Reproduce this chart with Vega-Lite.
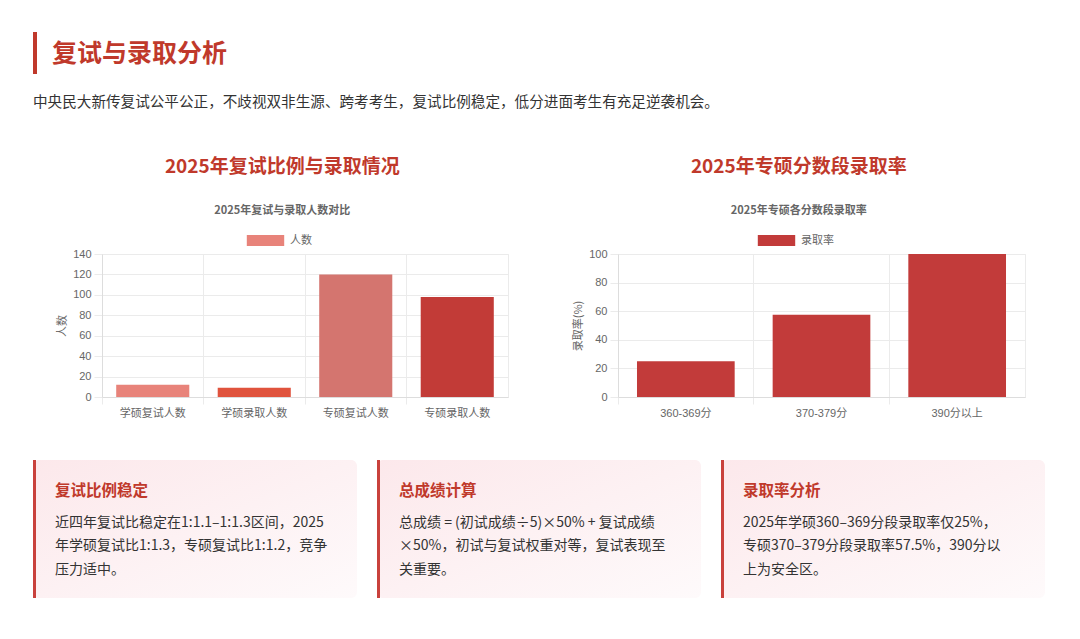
{
  "$schema": "https://vega.github.io/schema/vega-lite/v6.json",
  "background": "white",
  "padding": {"left": 33, "top": 30, "right": 20, "bottom": 10},
  "spacing": 39,
  "config": {
    "view": {"stroke": null},
    "font": "Noto Sans CJK SC",
    "text": {"font": "Noto Sans CJK SC"}
  },
  "resolve": {"scale": {"color": "independent"}, "legend": {"color": "independent"}},
  "vconcat": [
    {
      "width": 1012,
      "height": 86,
      "data": {"values": [
        {"part": "title", "text": "复试与录取分析"},
        {"part": "desc", "text": "中央民大新传复试公平公正，不歧视双非生源、跨考考生，复试比例稳定，低分进面考生有充足逆袭机会。"}
      ]},
      "layer": [
        {
          "transform": [{"filter": "datum.part == 'title'"}],
          "mark": {"type": "rule", "color": "#c0392b", "strokeWidth": 4},
          "encoding": {"x": {"value": 2}, "y": {"value": 0}, "y2": {"value": 42}}
        },
        {
          "transform": [{"filter": "datum.part == 'title'"}],
          "mark": {"type": "text", "align": "left", "baseline": "middle", "fontSize": 25, "fontWeight": "bold", "color": "#c0392b"},
          "encoding": {"text": {"field": "text"}, "x": {"value": 19}, "y": {"value": 22}}
        },
        {
          "transform": [{"filter": "datum.part == 'desc'"}],
          "mark": {"type": "text", "align": "left", "baseline": "middle", "fontSize": 14.6, "color": "#333333"},
          "encoding": {"text": {"field": "text"}, "x": {"value": 0}, "y": {"value": 71}}
        }
      ]
    },
    {
      "spacing": 22,
      "resolve": {"scale": {"color": "independent"}, "legend": {"color": "independent"}},
      "hconcat": [
        {
          "width": 1,
          "height": 1,
          "data": {"values": [{"a": 1}]},
          "mark": {"type": "text", "opacity": 0},
          "encoding": {"text": {"value": ""}}
        },
        {
          "spacing": 63,
          "resolve": {"scale": {"color": "independent"}, "legend": {"color": "independent"}},
          "hconcat": [
            {
              "width": 406,
              "height": 143,
              "view": {"stroke": "#ebebeb"},
              "title": {
                "text": "2025年复试比例与录取情况",
                "subtitle": "2025年复试与录取人数对比",
                "anchor": "middle",
                "frame": "bounds",
                "font": "Noto Sans CJK SC",
                "fontSize": 19,
                "fontWeight": "bold",
                "color": "#c0392b",
                "subtitleFont": "Noto Sans CJK SC",
                "subtitleFontSize": 11,
                "subtitleFontWeight": "bold",
                "subtitleColor": "#666666",
                "subtitlePadding": 28,
                "offset": 19
              },
              "data": {"values": [
                {"label": "学硕复试人数", "count": 12},
                {"label": "学硕录取人数", "count": 9},
                {"label": "专硕复试人数", "count": 120},
                {"label": "专硕录取人数", "count": 98}
              ]},
              "mark": {"type": "bar", "width": {"band": 0.72}},
              "encoding": {
                "x": {
                  "field": "label", "type": "nominal", "sort": null,
                  "scale": {"paddingInner": 0, "paddingOuter": 0},
                  "axis": {
                    "title": null, "labelAngle": 0, "grid": true, "gridColor": "#ebebeb",
                    "bandPosition": 0, "tickSize": 7, "tickColor": "#ebebeb", "domainColor": "#dddddd",
                    "labelPadding": 3, "labelFontSize": 11, "labelColor": "#666666",
                    "labelFont": "Liberation Sans, Noto Sans CJK SC, sans-serif"
                  }
                },
                "y": {
                  "field": "count", "type": "quantitative",
                  "scale": {"domain": [0, 140], "nice": false},
                  "axis": {
                    "title": "人数", "values": [0, 20, 40, 60, 80, 100, 120, 140],
                    "gridColor": "#ebebeb", "tickSize": 8, "tickColor": "#ebebeb", "domainColor": "#dddddd",
                    "labelPadding": 3, "labelFontSize": 11, "labelColor": "#666666",
                    "labelFont": "Liberation Sans, Noto Sans CJK SC, sans-serif",
                    "titleFontSize": 11, "titleColor": "#666666", "titleFontWeight": "normal",
                    "titleFont": "Noto Sans CJK SC", "titlePadding": 5
                  }
                },
                "color": {
                  "field": "label", "type": "nominal",
                  "scale": {
                    "domain": ["学硕复试人数", "学硕录取人数", "专硕复试人数", "专硕录取人数"],
                    "range": ["#e8837a", "#e0533d", "#d4756f", "#c23b37"]
                  },
                  "legend": {
                    "values": ["学硕复试人数"],
                    "labelExpr": "'人数'",
                    "title": null,
                    "orient": "none",
                    "legendX": 158,
                    "legendY": -19,
                    "padding": 0,
                    "symbolType": "M-3.4,-1H3.4V1H-3.4Z",
                    "symbolSize": 121,
                    "symbolStrokeWidth": 0,
                    "labelOffset": 19,
                    "labelFontSize": 11,
                    "labelColor": "#666666",
                    "labelFont": "Noto Sans CJK SC"
                  }
                }
              }
            },
            {
              "width": 407,
              "height": 143,
              "view": {"stroke": "#ebebeb"},
              "title": {
                "text": "2025年专硕分数段录取率",
                "subtitle": "2025年专硕各分数段录取率",
                "anchor": "middle",
                "frame": "bounds",
                "font": "Noto Sans CJK SC",
                "fontSize": 19,
                "fontWeight": "bold",
                "color": "#c0392b",
                "subtitleFont": "Noto Sans CJK SC",
                "subtitleFontSize": 11,
                "subtitleFontWeight": "bold",
                "subtitleColor": "#666666",
                "subtitlePadding": 28,
                "offset": 19
              },
              "data": {"values": [
                {"band": "360-369分", "rate": 25},
                {"band": "370-379分", "rate": 57.5},
                {"band": "390分以上", "rate": 100}
              ]},
              "mark": {"type": "bar", "width": {"band": 0.72}},
              "encoding": {
                "x": {
                  "field": "band", "type": "nominal", "sort": null,
                  "scale": {"paddingInner": 0, "paddingOuter": 0},
                  "axis": {
                    "title": null, "labelAngle": 0, "grid": true, "gridColor": "#ebebeb",
                    "bandPosition": 0, "tickSize": 7, "tickColor": "#ebebeb", "domainColor": "#dddddd",
                    "labelPadding": 3, "labelFontSize": 11, "labelColor": "#666666",
                    "labelFont": "Liberation Sans, Noto Sans CJK SC, sans-serif"
                  }
                },
                "y": {
                  "field": "rate", "type": "quantitative",
                  "scale": {"domain": [0, 100], "nice": false},
                  "axis": {
                    "title": "录取率(%)", "values": [0, 20, 40, 60, 80, 100],
                    "gridColor": "#ebebeb", "tickSize": 8, "tickColor": "#ebebeb", "domainColor": "#dddddd",
                    "labelPadding": 3, "labelFontSize": 11, "labelColor": "#666666",
                    "labelFont": "Liberation Sans, Noto Sans CJK SC, sans-serif",
                    "titleFontSize": 11, "titleColor": "#666666", "titleFontWeight": "normal",
                    "titleFont": "Noto Sans CJK SC", "titlePadding": 5
                  }
                },
                "color": {
                  "datum": "录取率",
                  "scale": {"range": ["#c23b3a"]},
                  "legend": {
                    "title": null,
                    "orient": "none",
                    "legendX": 153,
                    "legendY": -19,
                    "padding": 0,
                    "symbolType": "M-3.4,-1H3.4V1H-3.4Z",
                    "symbolSize": 121,
                    "symbolStrokeWidth": 0,
                    "labelOffset": 19,
                    "labelFontSize": 11,
                    "labelColor": "#666666",
                    "labelFont": "Noto Sans CJK SC"
                  }
                }
              }
            }
          ]
        }
      ]
    },
    {
      "data": {"values": [
        {"card": 1, "line": 0, "text": "复试比例稳定"},
        {"card": 1, "line": 1, "text": "近四年复试比稳定在1:1.1–1:1.3区间，2025"},
        {"card": 1, "line": 2, "text": "年学硕复试比1:1.3，专硕复试比1:1.2，竞争"},
        {"card": 1, "line": 3, "text": "压力适中。"},
        {"card": 2, "line": 0, "text": "总成绩计算"},
        {"card": 2, "line": 1, "text": "总成绩 = (初试成绩÷5)×50% + 复试成绩"},
        {"card": 2, "line": 2, "text": "×50%，初试与复试权重对等，复试表现至"},
        {"card": 2, "line": 3, "text": "关重要。"},
        {"card": 3, "line": 0, "text": "录取率分析"},
        {"card": 3, "line": 1, "text": "2025年学硕360–369分段录取率仅25%，"},
        {"card": 3, "line": 2, "text": "专硕370–379分段录取率57.5%，390分以"},
        {"card": 3, "line": 3, "text": "上为安全区。"}
      ]},
      "facet": {"column": {"field": "card", "type": "ordinal", "title": null, "header": {"labels": false, "title": null}}},
      "spacing": 20,
      "spec": {
        "width": 324,
        "height": 138,
        "view": {
          "stroke": null,
          "cornerRadius": 6,
          "fill": {
            "gradient": "linear", "x1": 0, "y1": 0, "x2": 1, "y2": 1,
            "stops": [{"offset": 0, "color": "#fce8eb"}, {"offset": 1, "color": "#fefafb"}]
          }
        },
        "layer": [
          {
            "transform": [{"filter": "datum.line == 0"}],
            "mark": {"type": "rule", "color": "#c9413c", "strokeWidth": 3},
            "encoding": {"x": {"value": 1.5}}
          },
          {
            "transform": [{"filter": "datum.line == 0"}],
            "mark": {"type": "text", "align": "left", "baseline": "middle", "fontSize": 15.5, "fontWeight": "bold", "color": "#c0392b", "dy": -8},
            "encoding": {
              "text": {"field": "text"},
              "x": {"value": 22},
              "y": {"field": "line", "type": "quantitative", "scale": {"domain": [-1.646, 4.177], "nice": false, "zero": false, "reverse": true}, "axis": null}
            }
          },
          {
            "transform": [{"filter": "datum.line > 0"}],
            "mark": {"type": "text", "align": "left", "baseline": "middle", "fontSize": 14, "color": "#333333"},
            "encoding": {
              "text": {"field": "text"},
              "x": {"value": 22},
              "y": {"field": "line", "type": "quantitative", "scale": {"domain": [-1.646, 4.177], "nice": false, "zero": false, "reverse": true}, "axis": null}
            }
          }
        ]
      }
    }
  ]
}
